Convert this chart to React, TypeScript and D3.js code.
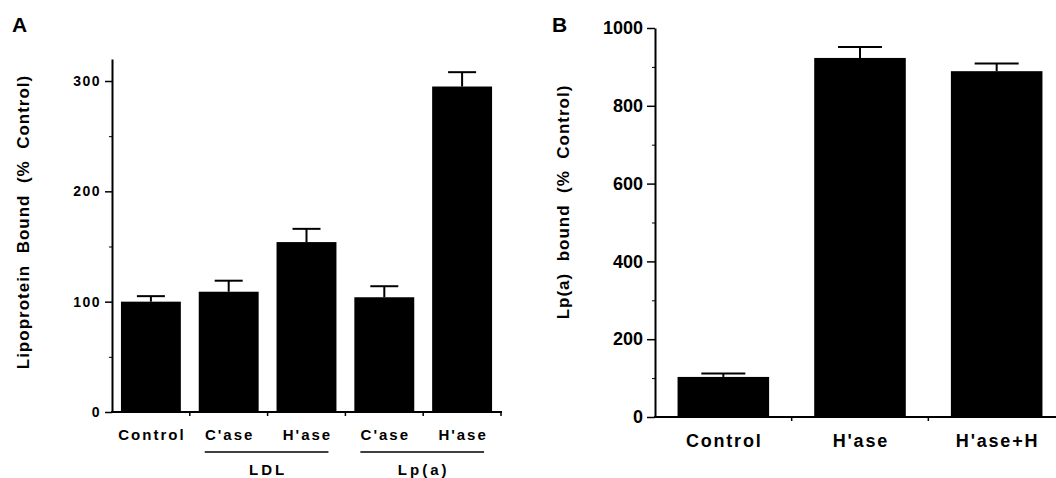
import { useEffect, useRef } from 'react';
import * as d3 from 'd3';

// Panel A
const panelALabels = ['Control', "C'ase", "H'ase", "C'ase", "H'ase"];
const panelAValues = [100, 109, 154, 104, 295];
const panelAErrors = [5, 10, 12, 10, 13];
const panelAGroups = [
  { label: 'LDL', first: 1, last: 2 },
  { label: 'Lp(a)', first: 3, last: 4 },
];
const panelAMajorTicks = [0, 100, 200, 300];
const panelAMinorTicks = [50, 150, 250];

// Panel B
const panelBLabels = ['Control', "H'ase", "H'ase+H"];
const panelBValues = [103, 923, 889];
const panelBErrors = [9, 28, 20];
const panelBMajorTicks = [0, 200, 400, 600, 800, 1000];
const panelBMinorTicks = [100, 300, 500, 700, 900];

const FONT = '"Liberation Sans", Arial, Helvetica, sans-serif';

const App = () => {
  const svgRef = useRef<SVGSVGElement>(null);

  useEffect(() => {
    if (!svgRef.current) return;
    const svg = d3.select(svgRef.current);
    svg.selectAll('*').remove();

    svg.append('rect').attr('width', 1056).attr('height', 478).attr('fill', 'white');

    const drawPanel = (opts: {
      labels: string[];
      values: number[];
      errors: number[];
      domain: [number, number];
      yRange: [number, number];
      xRange: [number, number];
      axisEnd: number;
      padInner: number;
      major: number[];
      minor: number[];
      tickFont: number;
      tickSpacing: number;
      tickLen: number;
      capWidth: number;
      labelFont: number;
      labelSpacing: number;
      labelY: number;
    }) => {
      const ids = opts.labels.map((_, i) => String(i));
      const x = d3
        .scaleBand()
        .domain(ids)
        .range(opts.xRange)
        .paddingInner(opts.padInner)
        .paddingOuter(opts.padInner / 2);
      const y = d3.scaleLinear().domain(opts.domain).range(opts.yRange);
      const x0 = opts.xRange[0];

      const g = svg.append('g');

      // bars
      g.selectAll('.bar')
        .data(opts.values)
        .enter()
        .append('rect')
        .attr('x', (_, i) => x(ids[i])!)
        .attr('y', d => y(d))
        .attr('width', x.bandwidth())
        .attr('height', d => y(0) - y(d))
        .attr('fill', '#000');

      // error bars
      opts.values.forEach((v, i) => {
        const cx = x(ids[i])! + x.bandwidth() / 2;
        g.append('line')
          .attr('x1', cx).attr('x2', cx)
          .attr('y1', y(v)).attr('y2', y(v + opts.errors[i]))
          .attr('stroke', '#000').attr('stroke-width', 2);
        g.append('line')
          .attr('x1', cx - opts.capWidth / 2).attr('x2', cx + opts.capWidth / 2)
          .attr('y1', y(v + opts.errors[i])).attr('y2', y(v + opts.errors[i]))
          .attr('stroke', '#000').attr('stroke-width', 2);
      });

      // y axis
      const yAxis = d3
        .axisLeft(y)
        .tickValues(opts.major)
        .tickFormat(d3.format('d'))
        .tickSize(opts.tickLen)
        .tickSizeOuter(0)
        .tickPadding(4);
      const ya = g.append('g').attr('transform', `translate(${x0},0)`).call(yAxis);
      ya.select('.domain').attr('stroke-width', 2);
      ya.selectAll('.tick line').attr('stroke-width', 1.5);
      ya.selectAll('text')
        .attr('font-family', FONT)
        .attr('font-weight', 'bold')
        .attr('font-size', opts.tickFont)
        .attr('letter-spacing', opts.tickSpacing)
        .attr('fill', '#000');
      const yMinor = d3.axisLeft(y).tickValues(opts.minor).tickSize(3).tickSizeOuter(0).tickFormat(() => '');
      const ym = g.append('g').attr('transform', `translate(${x0},0)`).call(yMinor);
      ym.select('.domain').remove();

      // x axis baseline with small ticks between categories
      g.append('line')
        .attr('x1', x0 - 1).attr('x2', opts.axisEnd)
        .attr('y1', y(0)).attr('y2', y(0))
        .attr('stroke', '#000').attr('stroke-width', 2);
      ids.forEach(id => {
        const bx = x(id)! + x.bandwidth() + (x.step() - x.bandwidth()) / 2;
        g.append('line')
          .attr('x1', bx).attr('x2', bx)
          .attr('y1', y(0)).attr('y2', y(0) + 4)
          .attr('stroke', '#000').attr('stroke-width', 1.5);
      });

      // category labels
      g.selectAll('.xlab')
        .data(opts.labels)
        .enter()
        .append('text')
        .attr('x', (_, i) => x(ids[i])! + x.bandwidth() / 2 + opts.labelSpacing / 2)
        .attr('y', opts.labelY)
        .attr('text-anchor', 'middle')
        .attr('font-family', FONT)
        .attr('font-weight', 'bold')
        .attr('font-size', opts.labelFont)
        .attr('letter-spacing', opts.labelSpacing)
        .text(d => d);

      return { x, y, ids, g };
    };

    // Panel A
    const a = drawPanel({
      labels: panelALabels,
      values: panelAValues,
      errors: panelAErrors,
      domain: [0, 320],
      yRange: [412, 412 - 320 * (331 / 300)],
      xRange: [112, 501],
      axisEnd: 502,
      padInner: 0.23,
      major: panelAMajorTicks,
      minor: panelAMinorTicks,
      tickFont: 14,
      tickSpacing: 1.5,
      tickLen: 7,
      capWidth: 28,
      labelFont: 15,
      labelSpacing: 2,
      labelY: 440,
    });

    panelAGroups.forEach(grp => {
      const left = a.x(a.ids[grp.first])! + 6;
      const right = a.x(a.ids[grp.last])! + a.x.bandwidth() - 8;
      a.g.append('line')
        .attr('x1', left).attr('x2', right)
        .attr('y1', 452).attr('y2', 452)
        .attr('stroke', '#000').attr('stroke-width', 1.5);
      a.g.append('text')
        .attr('x', (left + right) / 2 + 1.5)
        .attr('y', 475)
        .attr('text-anchor', 'middle')
        .attr('font-family', FONT)
        .attr('font-weight', 'bold')
        .attr('font-size', 15)
        .attr('letter-spacing', 3)
        .text(grp.label);
    });

    // Panel B
    drawPanel({
      labels: panelBLabels,
      values: panelBValues,
      errors: panelBErrors,
      domain: [0, 1000],
      yRange: [417, 28],
      xRange: [655, 1065],
      axisEnd: 1065,
      padInner: 0.33,
      major: panelBMajorTicks,
      minor: panelBMinorTicks,
      tickFont: 18,
      tickSpacing: 0,
      tickLen: 8,
      capWidth: 44,
      labelFont: 18,
      labelSpacing: 1.8,
      labelY: 447,
    });

    // axis titles
    const title = (tx: number, ty: number, text: string) =>
      svg.append('text')
        .attr('transform', `translate(${tx},${ty}) rotate(-90)`)
        .attr('text-anchor', 'middle')
        .attr('font-family', FONT)
        .attr('font-weight', 'bold')
        .attr('font-size', 17)
        .attr('letter-spacing', 1)
        .style('white-space', 'pre')
        .text(text);
    title(29, 222, 'Lipoprotein  Bound  (%  Control)');
    title(569, 202, 'Lp(a)  bound  (%  Control)');

    // panel letters
    const letter = (tx: number, text: string) =>
      svg.append('text')
        .attr('x', tx)
        .attr('y', 32)
        .attr('font-family', FONT)
        .attr('font-weight', 'bold')
        .attr('font-size', 21)
        .text(text);
    letter(12, 'A');
    letter(552, 'B');
  }, []);

  return (
    <svg
      ref={svgRef}
      width={1056}
      height={478}
      style={{ position: 'absolute', left: 0, top: 0, display: 'block' }}
    />
  );
};

export default App;
